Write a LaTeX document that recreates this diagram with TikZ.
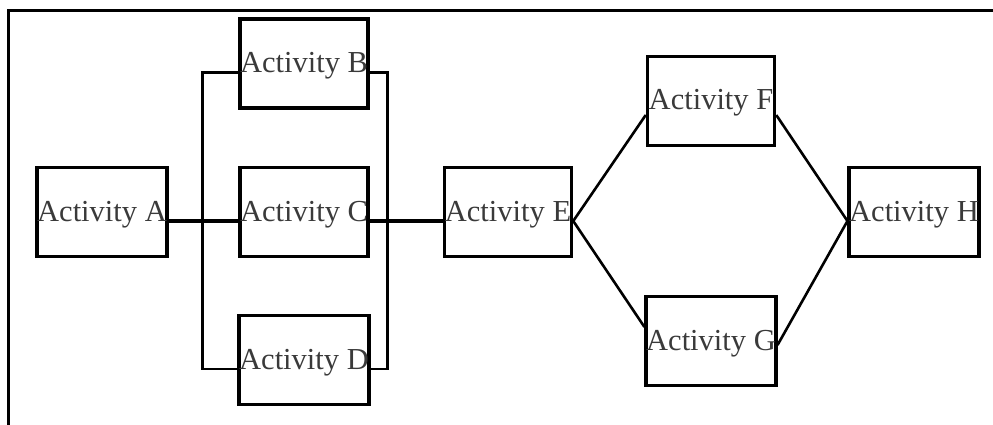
\documentclass[tikz,border=0pt]{standalone}
\usepackage{fontspec}
\setmainfont{Liberation Serif}
\definecolor{labelgray}{HTML}{3A3A3A}
\begin{document}
\begin{tikzpicture}[x=1pt,y=-1pt,
  activity/.style={draw=black, line width=3.5pt, minimum width=127pt, minimum height=89pt,
    inner sep=0pt, text=labelgray, font=\fontsize{30.5}{36}\selectfont,
    text height=22pt, text depth=4pt},
  link/.style={draw=black, line width=2.6pt},
  frameline/.style={draw=black, line width=3pt}]
  \useasboundingbox (0,0) rectangle (993,425);

  % frame along the top and left edges
  \coordinate (ftop) at (993,11);
  \coordinate (fcorner) at (8,11);
  \coordinate (fbottom) at (8,425);
  \draw[frameline] (ftop) -- (fcorner) -- (fbottom);

  % activities
  \node[activity] (A) at (102,212) {Activity A};
  \node[activity] (B) at (304,63.5) {Activity B};
  \node[activity] (C) at (304,212) {Activity C};
  \node[activity] (D) at (304,360) {Activity D};
  \node[activity] (E) at (508,212) {Activity E};
  \node[activity] (F) at (711,101) {Activity F};
  \node[activity] (G) at (711,341) {Activity G};
  \node[activity] (H) at (914,212) {Activity H};

  % A fans out to B, C and D; they join again before E
  \draw[link, line width=3.2pt] (A.base east) -- (C.base west);
  \draw[link] (B.base west) -- ++(-36,0) |- (D.base west);
  \draw[link] (B.base east) -- ++(18,0) |- (D.base east);
  \draw[link, line width=3.2pt] (C.base east) -- (E.base west);

  % E splits into F and G, which merge into H
  \draw[link] (E.base east) -- ([yshift=-14pt]F.west);
  \draw[link] (E.base east) -- ([yshift=14pt]G.west);
  \draw[link] ([yshift=-14pt]F.east) -- (H.base west);
  \draw[link] ([yshift=-4pt]G.east) -- (H.base west);
\end{tikzpicture}
\end{document}
